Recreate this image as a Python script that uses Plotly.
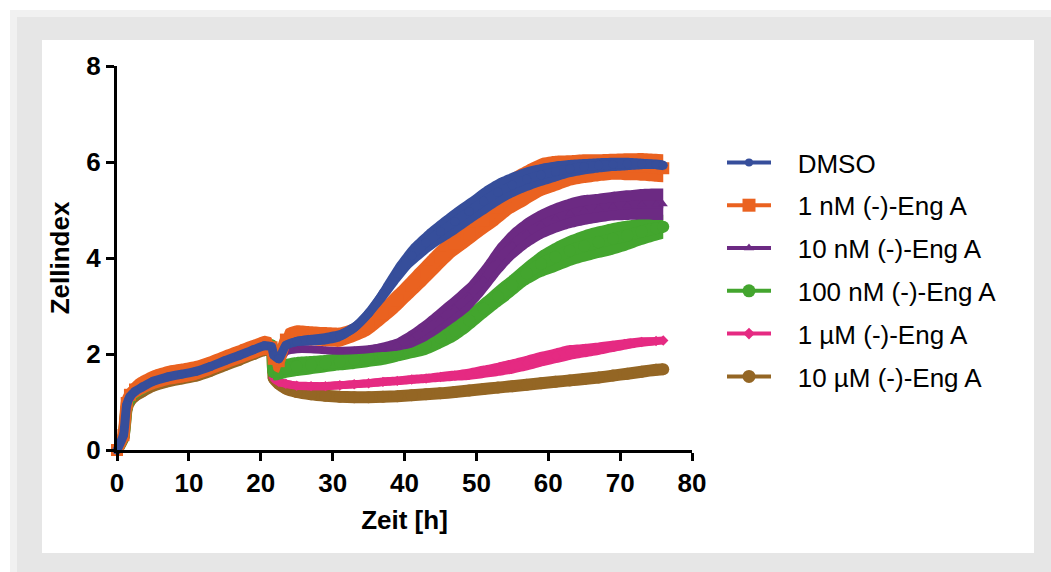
import plotly.graph_objects as go

# ---------------- data ----------------
T = [0, 0.9, 1.35, 1.8, 2.5, 3.5, 5, 7, 9, 11, 13, 15, 17, 19, 20.5, 21.5,
     21.8, 22.5, 23.5, 25, 27, 29, 31, 33, 35, 37, 39, 41, 43, 45, 47, 49, 51,
     53, 55, 57, 59, 61, 63, 65, 67, 69, 71, 73, 75, 76]

DMSO_MEAN = [0, 0.31, 0.94, 1.11, 1.22, 1.31, 1.43, 1.52, 1.58, 1.64, 1.74, 1.86, 1.97, 2.09, 2.17, 2.15,
             1.98, 1.9, 2.18, 2.26, 2.29, 2.32, 2.38, 2.55, 2.85, 3.25, 3.68, 4.05, 4.32, 4.55, 4.76, 4.97,
             5.18, 5.37, 5.52, 5.64, 5.73, 5.8, 5.86, 5.9, 5.93, 5.95, 5.96, 5.96, 5.95, 5.93]
DMSO_SD = [0, 0, 0.04, 0.04, 0.04, 0.04, 0.04, 0.04, 0.04, 0.04, 0.04, 0.04, 0.04, 0.04, 0.04, 0.04,
           0.06, 0.06, 0.08, 0.1, 0.11, 0.12, 0.12, 0.12, 0.13, 0.19, 0.23, 0.24, 0.25, 0.26, 0.28, 0.28,
           0.29, 0.28, 0.26, 0.25, 0.23, 0.21, 0.18, 0.16, 0.15, 0.14, 0.13, 0.11, 0.1, 0.1]

NM1_MEAN = [0, 0.31, 0.98, 1.15, 1.26, 1.35, 1.46, 1.55, 1.6, 1.66, 1.76, 1.88, 1.99, 2.1, 2.18, 2.14,
            1.9, 1.85, 2.3, 2.4, 2.38, 2.36, 2.35, 2.45, 2.6, 2.85, 3.12, 3.42, 3.72, 4.02, 4.3, 4.52,
            4.78, 5.05, 5.35, 5.52, 5.68, 5.76, 5.82, 5.86, 5.88, 5.9, 5.9, 5.9, 5.88, 5.87]
NM1_SD = [0, 0, 0.2, 0.2, 0.2, 0.2, 0.2, 0.2, 0.2, 0.2, 0.2, 0.2, 0.2, 0.2, 0.2, 0.2,
          0.24, 0.24, 0.22, 0.2, 0.2, 0.2, 0.2, 0.2, 0.22, 0.24, 0.26, 0.27, 0.28, 0.28, 0.27, 0.27,
          0.3, 0.36, 0.42, 0.42, 0.4, 0.37, 0.32, 0.3, 0.28, 0.27, 0.28, 0.29, 0.29, 0.29]

NM10_MEAN = [0, 0.28, 0.9, 1.07, 1.18, 1.27, 1.39, 1.48, 1.54, 1.6, 1.7, 1.82, 1.93, 2.05, 2.13, 2.12,
             1.9, 1.85, 2.05, 2.1, 2.1, 2.08, 2.07, 2.08, 2.1, 2.14, 2.2, 2.32, 2.5, 2.72, 2.95, 3.2,
             3.55, 3.95, 4.28, 4.52, 4.7, 4.83, 4.93, 5.0, 5.04, 5.08, 5.1, 5.12, 5.12, 5.12]
NM10_SD = [0, 0, 0.05, 0.05, 0.05, 0.05, 0.05, 0.05, 0.05, 0.05, 0.05, 0.05, 0.05, 0.05, 0.05, 0.05,
           0.05, 0.05, 0.05, 0.05, 0.05, 0.05, 0.05, 0.06, 0.07, 0.1, 0.13, 0.19, 0.23, 0.26, 0.28, 0.3,
           0.32, 0.34, 0.33, 0.32, 0.31, 0.31, 0.31, 0.31, 0.3, 0.3, 0.31, 0.32, 0.33, 0.33]

NM100_MEAN = [0, 0.28, 0.9, 1.08, 1.19, 1.28, 1.4, 1.49, 1.55, 1.61, 1.72, 1.85, 1.97, 2.1, 2.19, 2.18,
              1.62, 1.64, 1.7, 1.74, 1.77, 1.8, 1.84, 1.88, 1.92, 1.97, 2.04, 2.12, 2.2, 2.33, 2.48, 2.7,
              2.95, 3.2, 3.43, 3.68, 3.88, 4.02, 4.15, 4.25, 4.33, 4.4, 4.47, 4.55, 4.62, 4.65]
NM100_SD = [0, 0, 0.12, 0.12, 0.12, 0.12, 0.12, 0.12, 0.12, 0.12, 0.12, 0.12, 0.12, 0.12, 0.12, 0.12,
            0.17, 0.18, 0.2, 0.2, 0.19, 0.18, 0.18, 0.19, 0.19, 0.2, 0.2, 0.21, 0.22, 0.22, 0.22, 0.23,
            0.23, 0.24, 0.245, 0.25, 0.28, 0.31, 0.32, 0.33, 0.33, 0.33, 0.31, 0.28, 0.26, 0.25]

UM1_MEAN = [0, 0.27, 0.88, 1.05, 1.16, 1.25, 1.37, 1.46, 1.52, 1.58, 1.68, 1.8, 1.91, 2.03, 2.11, 2.1,
            1.5, 1.42, 1.38, 1.34, 1.33, 1.33, 1.35, 1.37, 1.39, 1.42, 1.44, 1.47, 1.49, 1.52, 1.55, 1.58,
            1.63, 1.68, 1.74, 1.81, 1.89, 1.96, 2.03, 2.07, 2.11, 2.16, 2.21, 2.25, 2.27, 2.28]
UM1_SD = [0, 0, 0.04, 0.04, 0.04, 0.04, 0.04, 0.04, 0.04, 0.04, 0.04, 0.04, 0.04, 0.04, 0.04, 0.04,
          0.085, 0.085, 0.085, 0.085, 0.085, 0.085, 0.085, 0.085, 0.085, 0.09, 0.09, 0.095, 0.095, 0.1, 0.105, 0.12,
          0.13, 0.14, 0.15, 0.155, 0.155, 0.155, 0.155, 0.14, 0.13, 0.12, 0.11, 0.1, 0.08, 0.06]

UM10_MEAN = [0, 0.26, 0.86, 1.02, 1.13, 1.22, 1.34, 1.43, 1.49, 1.55, 1.65, 1.77, 1.88, 2.0, 2.08, 2.08,
             1.5, 1.38, 1.28, 1.21, 1.16, 1.13, 1.11, 1.1, 1.1, 1.11, 1.12, 1.14, 1.16, 1.18, 1.21, 1.24,
             1.27, 1.3, 1.33, 1.36, 1.39, 1.42, 1.45, 1.48, 1.51, 1.55, 1.59, 1.63, 1.67, 1.68]
UM10_SD = [0, 0, 0.02, 0.02, 0.02, 0.02, 0.02, 0.02, 0.02, 0.02, 0.02, 0.02, 0.02, 0.02, 0.02, 0.02,
           0.02, 0.02, 0.02, 0.02, 0.02, 0.02, 0.02, 0.02, 0.02, 0.02, 0.02, 0.02, 0.02, 0.02, 0.02, 0.02,
           0.02, 0.02, 0.02, 0.02, 0.02, 0.02, 0.02, 0.02, 0.02, 0.02, 0.02, 0.02, 0.02, 0.02]

NAMES = ["DMSO", "1 nM (-)-Eng A", "10 nM (-)-Eng A", "100 nM (-)-Eng A",
         "1 µM (-)-Eng A", "10 µM (-)-Eng A"]
X_TICKS = [0, 10, 20, 30, 40, 50, 60, 70, 80]
Y_TICKS = [0, 2, 4, 6, 8]

# ---------------- styles ----------------
MEANS = [DMSO_MEAN, NM1_MEAN, NM10_MEAN, NM100_MEAN, UM1_MEAN, UM10_MEAN]
SDS = [DMSO_SD, NM1_SD, NM10_SD, NM100_SD, UM1_SD, UM10_SD]
COLORS = ["#364E9B", "#EA6220", "#6C2A83", "#43A52E", "#E52A82", "#946624"]
SYMBOLS = ["circle", "square", "triangle-up", "circle", "diamond", "circle"]
LEG_MSIZE = [8, 13, 9, 13, 9, 13]
PLOT_W = [9, 12, 8, 12, 8, 12]

W, H = 1051, 572
ML, MR, MT, MB = 117, 359, 66, 122
PW, PH = W - ML - MR, H - MT - MB


def px_x(px):
    return (px - ML) / PW


def px_y(py):
    return (H - MB - py) / PH


FONT = "Liberation Sans, Arial, sans-serif"
SHAPE = dict(shape="spline", smoothing=0.5)

fig = go.Figure()

# draw from bottom-most to top-most series
for i in reversed(range(len(NAMES))):
    mean, sd, col = MEANS[i], SDS[i], COLORS[i]
    lower = [m - s for m, s in zip(mean, sd)]
    upper = [m + s for m, s in zip(mean, sd)]
    fig.add_trace(go.Scatter(x=T, y=lower, mode="lines", line=dict(width=0, color=col, **SHAPE),
                             showlegend=False, hoverinfo="skip"))
    fig.add_trace(go.Scatter(x=T, y=upper, mode="lines", line=dict(width=0, color=col, **SHAPE),
                             fill="tonexty", fillcolor=col, showlegend=False, hoverinfo="skip"))
    fig.add_trace(go.Scatter(x=T, y=mean, mode="lines+markers",
                             line=dict(width=PLOT_W[i], color=col, **SHAPE),
                             marker=dict(symbol=SYMBOLS[i], size=PLOT_W[i], color=col),
                             cliponaxis=False, showlegend=False, name=NAMES[i]))

# legend entries
for i, name in enumerate(NAMES):
    fig.add_trace(go.Scatter(x=[None], y=[None], mode="lines+markers",
                             name="\u00a0\u00a0\u00a0" + name, legendgroup=name,
                             line=dict(width=4, color=COLORS[i]),
                             marker=dict(symbol=SYMBOLS[i], size=LEG_MSIZE[i], color=COLORS[i])))

shapes = [
    dict(type="rect", xref="paper", yref="paper", layer="below",
         x0=px_x(10), x1=px_x(W + 5), y0=px_y(H + 5), y1=px_y(10),
         fillcolor="#f1f1f1", line=dict(width=0)),
    dict(type="rect", xref="paper", yref="paper", layer="below",
         x0=px_x(17), x1=px_x(W + 5), y0=px_y(H + 5), y1=px_y(17),
         fillcolor="#e6e6e6", line=dict(width=0)),
    dict(type="rect", xref="paper", yref="paper", layer="below",
         x0=px_x(42), x1=px_x(1034), y0=px_y(553), y1=px_y(40),
         fillcolor="#ffffff", line=dict(width=0)),
]

axis_common = dict(showline=True, linecolor="black", linewidth=3, ticks="outside",
                   ticklen=8, tickwidth=3, tickcolor="black", showgrid=False, zeroline=False,
                   tickfont=dict(family=FONT, size=26, color="black", weight="bold"))

fig.update_layout(
    width=W, height=H, autosize=False,
    margin=dict(l=ML, r=MR, t=MT, b=MB, pad=0),
    paper_bgcolor="#ffffff", plot_bgcolor="rgba(0,0,0,0)",
    shapes=shapes,
    xaxis=dict(range=[0, 80], tickvals=X_TICKS, **axis_common,
               title=dict(text="Zeit [h]", standoff=14,
                          font=dict(family=FONT, size=26, color="black", weight="bold"))),
    yaxis=dict(range=[0, 8], tickvals=Y_TICKS, **axis_common,
               title=dict(text="Zellindex", standoff=10,
                          font=dict(family=FONT, size=26, color="black", weight="bold"))),
    legend=dict(x=px_x(722), y=px_y(139), xanchor="left", yanchor="top",
                font=dict(family=FONT, size=26, color="black"),
                bgcolor="rgba(0,0,0,0)", tracegroupgap=6, itemwidth=44),
    showlegend=True,
)

fig.write_html("out.html")
